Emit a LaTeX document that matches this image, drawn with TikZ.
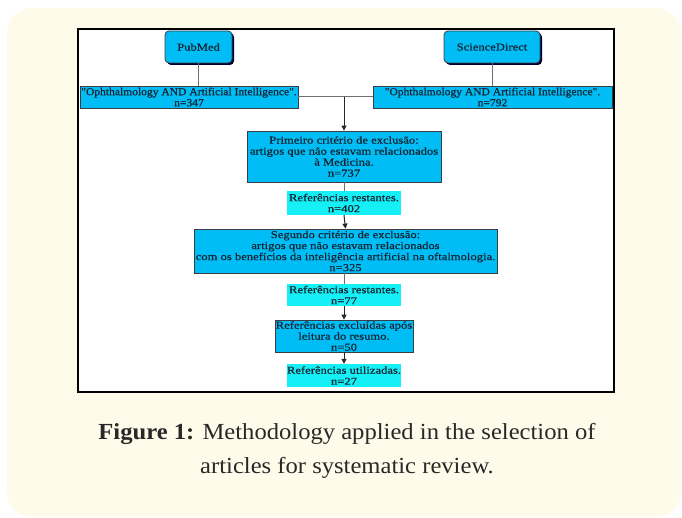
\documentclass[tikz,border=0pt]{standalone}
\usepackage{fontspec}
\setmainfont{Liberation Serif}
\newfontfamily\diagfont[FakeStretch=1.2,FakeBold=0.6]{Liberation Serif}
\newfontfamily\qfont[FakeStretch=1.07,FakeBold=0.6]{Liberation Serif}
\newfontfamily\capfont[FakeStretch=1.07]{Liberation Serif}
\usetikzlibrary{arrows.meta,shadows}
\definecolor{cream}{RGB}{255,251,234}
\definecolor{skyb}{RGB}{0,190,245}
\definecolor{aquab}{RGB}{20,240,245}
\definecolor{txt}{RGB}{20,35,50}
\definecolor{bord}{RGB}{60,60,70}
\definecolor{conn}{RGB}{110,110,110}
\definecolor{capc}{RGB}{40,40,40}
\tikzset{
  dbox/.style={draw=bord,fill=skyb,line width=0.8pt,inner sep=0pt,align=center,text=txt,font=\diagfont\fontsize{10.5}{11}\selectfont},
  lbox/.style={fill=aquab,inner sep=0pt,align=center,text=txt,font=\diagfont\fontsize{10.5}{11}\selectfont},
  qbox/.style={dbox,font=\qfont\fontsize{10.8}{11}\selectfont},
  src/.style={dbox,rounded corners=4pt,drop shadow={shadow xshift=2pt,shadow yshift=-2pt,fill=black!80!blue,opacity=1}},
  gline/.style={draw=conn,line width=1pt},
  arr/.style={draw=black!85,line width=1pt,-{Triangle[width=5pt,length=5pt]}},
  capt/.style={text=capc,font=\capfont\fontsize{23}{23}\selectfont,inner sep=0pt}
}
\begin{document}
\begin{tikzpicture}[x=1pt,y=-1pt]
\useasboundingbox (0,0) rectangle (682,518);
\fill[white] (0,0) rectangle (682,518);
\fill[cream,rounded corners=25pt] (7,8) rectangle (681,517);
\draw[black,line width=1.5pt,fill=white] (78,29) rectangle (614,392);

\node[src,minimum width=67pt,minimum height=32pt] (pub) at (198.5,47) {PubMed};
\node[src,minimum width=96pt,minimum height=32pt] (sci) at (492,47) {ScienceDirect};
\node[qbox,minimum width=218pt,minimum height=22pt] (lq) at (189,97) {"Ophthalmology AND Artificial Intelligence".\\n=347};
\node[qbox,minimum width=239pt,minimum height=22pt] (rq) at (492.5,97) {"Ophthalmology AND Artificial Intelligence".\\n=792};
\node[dbox,minimum width=194pt,minimum height=51pt] (c1) at (344,156.5) {Primeiro critério de exclusão:\\artigos que não estavam relacionados\\à Medicina.\\n=737};
\node[lbox,minimum width=114pt,minimum height=24pt] (r1) at (344,203) {Referências restantes.\\n=402};
\node[dbox,minimum width=303pt,minimum height=44pt] (c2) at (345.5,251) {Segundo critério de exclusão:\\artigos que não estavam relacionados\\com os benefícios da inteligência artificial na oftalmologia.\\n=325};
\node[lbox,minimum width=114pt,minimum height=22pt] (r2) at (344,295) {Referências restantes.\\n=77};
\node[dbox,minimum width=138pt,minimum height=32pt] (ex) at (344,336) {Referências excluídas após\\leitura do resumo.\\n=50};
\node[lbox,minimum width=114pt,minimum height=23pt] (ut) at (344,375.5) {Referências utilizadas.\\n=27};

\coordinate (jn) at (c1.north |- lq.east);
\draw[gline] (pub.south) -- (pub.south |- lq.north);
\draw[gline] (sci.south) -- (sci.south |- rq.north);
\draw[gline] (lq.east) -- (rq.west);
\draw[arr] (jn) -- (c1.north);
\draw[gline] (c1.south) -- (r1.north);
\draw[arr] (r1.south) -- (c2.north);
\draw[gline] (c2.south -| r2.north) -- (r2.north);
\draw[arr] (r2.south) -- (ex.north);
\draw[arr] (ex.south) -- (ut.north);

\node[capt] (cap1) at (347,434) {\textbf{Figure 1:} Methodology applied in the selection of};
\node[capt] (cap2) at (347,468) {articles for systematic review.};
\end{tikzpicture}
\end{document}
